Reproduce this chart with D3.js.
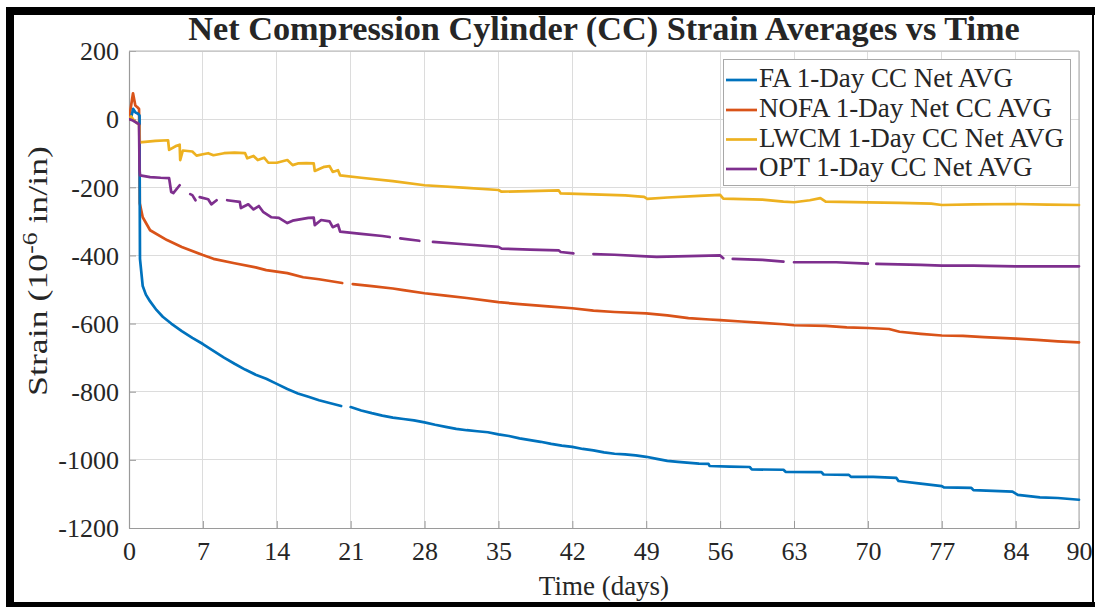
<!DOCTYPE html>
<html>
<head>
<meta charset="utf-8">
<script src="https://cdn.jsdelivr.net/npm/d3@7/dist/d3.min.js"></script>
<style>
  html, body { margin: 0; padding: 0; background: #fff; }
  svg { display: block; }
  text { font-family: "Liberation Serif", "Times New Roman", serif; fill: #262626; }
</style>
</head>
<body>
<svg id="chart" width="1095" height="607"></svg>
<script>
// Net compression-cylinder strain averages, [day, microstrain]; null marks a logging gap
const faData = [[0,0],[0.2,5],[0.4,30],[0.6,20],[0.9,15],[1.0,10],[1.02,-250],[1.04,-410],[1.3,-490],[1.6,-515],[2,-535],[2.6,-560],[3.2,-580],[4,-600],[5,-622],[6,-642],[7,-660],[8,-680],[9,-700],[10,-718],[11,-735],[12,-750],[13,-762],[14,-777],[15,-792],[16,-805],[17,-815],[18,-825],[19,-833],[20.1,-842],null,[21,-845],[22,-855],[23,-863],[24,-870],[25,-876],[26,-880],[27,-884],[28,-890],[29,-897],[30,-903],[31,-909],[32,-913],[33,-916],[34,-919],[35,-925],[36,-930],[37,-937],[38,-942],[39,-947],[40,-953],[41,-958],[42,-962],[43,-968],[44,-972],[45,-978],[46,-982],[47,-984],[48,-987],[49,-991],[50,-997],[51,-1003],[52,-1006],[54,-1011],[54.9,-1012],[55,-1018],[56.9,-1020],[58.8,-1021],[59,-1028],[62,-1029],[62.2,-1035],[65.6,-1036],[65.8,-1043],[68.2,-1044],[68.4,-1050],[70.5,-1050],[72.7,-1053],[72.9,-1062],[75,-1070],[77,-1077],[77.2,-1081],[79.8,-1082],[80,-1089],[83.7,-1093],[84.2,-1103],[86.3,-1110],[88,-1112],[90,-1117]];

const nofaData = [[0,0],[0.15,30],[0.38,76],[0.6,40],[0.8,35],[0.95,30],[1.0,-100],[1.02,-247],[1.3,-288],[2,-326],[3.6,-355],[5,-375],[7,-399],[8,-410],[10,-423],[12,-435],[13,-443],[15,-452],[16.5,-464],[18,-470],[20.2,-481],null,[21.2,-484],[23,-490],[25,-497],[26,-502],[28,-511],[30,-518],[32,-525],[35,-537],[37,-543],[40,-550],[42,-555],[44,-562],[46,-566],[49,-570],[51,-576],[53,-584],[55,-588],[56,-590],[58,-594],[60,-598],[62,-602],[63,-605],[66,-607],[68,-611],[70,-613],[72,-616],[73,-624],[75,-630],[77,-635],[79,-636],[81,-640],[84,-644],[86,-648],[88,-652],[90,-655]];

const lwcmData = [[0,0],[0.2,8],[0.5,-5],[0.9,-15],[1.0,-20],[1.02,-68],[2.5,-64],[3.7,-62],[3.8,-90],[4.5,-78],[4.8,-75],[4.85,-120],[5.1,-92],[6,-95],[6.4,-107],[7,-103],[7.5,-100],[8,-106],[9,-100],[10,-98],[11,-100],[11.2,-115],[11.8,-108],[12.2,-120],[12.8,-113],[13.2,-128],[14,-128],[15,-120],[15.5,-135],[16,-130],[16.8,-129],[17.5,-130],[17.6,-152],[18.5,-140],[19,-138],[19.3,-155],[19.8,-150],[20,-165],[22,-172],[25,-182],[28,-194],[32,-202],[35,-208],[35.3,-213],[38,-211],[40.7,-209],[40.9,-218],[44,-221],[47,-224],[48.8,-228],[49.1,-234],[51,-230],[54,-225],[56,-222],[56.3,-233],[60,-236],[62,-242],[63,-244],[64.5,-238],[65.5,-232],[66,-242],[70,-244],[73,-246],[76,-248],[77,-252],[80,-250],[84,-249],[87,-251],[90,-252]];

const optData = [[0,0],[0.3,-3],[0.8,-12],[0.95,-15],[1.0,-150],[1.05,-165],[2,-170],[3,-172],[3.8,-173],[4.0,-214],[4.2,-217],[4.8,-194],null,[5.8,-220],[6,-223],[6.3,-238],null,[6.7,-229],[7.5,-235],[7.8,-250],[8.3,-238],null,[9.3,-238],[10.5,-243],[10.6,-261],[11.3,-250],[11.8,-265],[12.3,-255],[12.7,-272],[13.5,-288],[14.2,-290],[15,-305],[15.5,-298],[17,-290],[17.5,-289],[17.6,-311],[18.2,-296],[19,-300],[19.3,-317],[19.8,-310],[20,-330],[22,-337],[24,-343],[24.7,-346],null,[25.7,-350],[27.5,-357],null,[28.8,-360],[32,-368],[35,-375],[35.3,-380],[38,-383],[40.7,-385],[40.9,-390],[42.1,-394],null,[44,-396],[46,-398],[49,-403],[50,-404],[53,-402],[56,-400],[56.3,-408],null,[57.2,-410],[60,-413],[62,-418],null,[63,-420],[67,-420],[70,-424],null,[70.8,-425],[75,-428],[77,-430],[80,-430],[84,-432],[87,-432],[90,-432]];

const seriesNames = ["FA 1-Day CC Net AVG", "NOFA 1-Day Net CC AVG", "LWCM 1-Day CC Net AVG", "OPT 1-Day CC Net AVG"];
const seriesColors = ["#0072BD", "#D95319", "#EDB120", "#7E2F8E"];
const xTicks = [0, 7, 14, 21, 28, 35, 42, 49, 56, 63, 70, 77, 84, 90];
const yTicks = [200, 0, -200, -400, -600, -800, -1000, -1200];

const series = [faData, nofaData, lwcmData, optData];

const svg = d3.select("#chart");
const W = 1095, H = 607;
const plot = { left: 129, right: 1079, top: 51, bottom: 528 };

const x = d3.scaleLinear().domain([0, 90]).range([plot.left, plot.right]);
const y = d3.scaleLinear().domain([-1200, 200]).range([plot.bottom, plot.top]);

svg.append("rect").attr("x", 0).attr("y", 0).attr("width", W).attr("height", H).attr("fill", "#fff");

// grid
const grid = svg.append("g").attr("stroke", "#dcdcdc").attr("stroke-width", 1).attr("shape-rendering", "crispEdges");
grid.selectAll("line.gx").data(xTicks).join("line")
  .attr("x1", d => x(d)).attr("x2", d => x(d)).attr("y1", plot.top).attr("y2", plot.bottom);
grid.selectAll("line.gy").data(yTicks).join("line")
  .attr("x1", plot.left).attr("x2", plot.right).attr("y1", d => y(d)).attr("y2", d => y(d));

// axes (ticks point inward, plain hyphen minus, no thousands separator)
const plain = d => String(d);
const xAxis = d3.axisBottom(x).tickValues(xTicks).tickFormat(plain).tickSizeInner(-7).tickSizeOuter(0).tickPadding(14);
const yAxis = d3.axisLeft(y).tickValues(yTicks).tickFormat(plain).tickSizeInner(-7).tickSizeOuter(0).tickPadding(10);

const gx = svg.append("g").attr("transform", `translate(0,${plot.bottom})`).call(xAxis);
const gy = svg.append("g").attr("transform", `translate(${plot.left},0)`).call(yAxis);
[gx, gy].forEach(g => {
  g.select(".domain").attr("stroke", "#9a9a9a").attr("stroke-width", 1.2);
  g.selectAll(".tick line").attr("stroke", "#9a9a9a");
  g.selectAll(".tick text").attr("font-family", "Liberation Serif").attr("font-size", 26).attr("fill", "#262626");
});
gx.selectAll(".tick text").attr("dy", "0.71em");
gy.selectAll(".tick text").attr("dy", "0.34em");

// box top/right
svg.append("line").attr("x1", plot.left).attr("x2", plot.right).attr("y1", plot.top).attr("y2", plot.top)
  .attr("stroke", "#b5b5b5").attr("stroke-width", 1.2);
svg.append("line").attr("x1", plot.right).attr("x2", plot.right).attr("y1", plot.top).attr("y2", plot.bottom)
  .attr("stroke", "#b5b5b5").attr("stroke-width", 1.2);

// series lines
const line = d3.line().defined(d => d != null).x(d => x(d[0])).y(d => y(d[1]));
svg.append("clipPath").attr("id", "plotclip").append("rect")
  .attr("x", plot.left).attr("y", plot.top - 2).attr("width", plot.right - plot.left + 2).attr("height", plot.bottom - plot.top + 2);
const lines = svg.append("g").attr("clip-path", "url(#plotclip)");
[1, 0, 2, 3].forEach(i => {
  lines.append("path").datum(series[i]).attr("d", line)
    .attr("fill", "none").attr("stroke", seriesColors[i]).attr("stroke-width", 2.7)
    .attr("stroke-linejoin", "round").attr("stroke-linecap", "round");
});

// stretch a centred text along its own direction to a given length
function fitLength(sel, cx, cy, rot, target) {
  const len = sel.node().getComputedTextLength();
  const s = target / len;
  sel.attr("transform", `translate(${cx},${cy}) rotate(${rot}) scale(${s},1)`);
}

// title
const title = svg.append("text").attr("x", 0).attr("y", 0)
  .attr("text-anchor", "middle").attr("font-weight", "bold").attr("font-size", 33).attr("fill", "#000")
  .text("Net Compression Cylinder (CC) Strain Averages vs Time");
fitLength(title, (plot.left + plot.right) / 2, 40, 0, 832);

// axis labels
svg.append("text").attr("x", (plot.left + plot.right) / 2).attr("y", 595)
  .attr("text-anchor", "middle").attr("font-size", 27).text("Time (days)");

const yl = svg.append("text").attr("x", 0).attr("y", 0)
  .attr("text-anchor", "middle").attr("font-size", 28);
yl.append("tspan").text("Strain (10");
yl.append("tspan").attr("dy", -10).attr("font-size", 20).text("-6");
yl.append("tspan").attr("dy", 10).text(" in/in)");
fitLength(yl, 47, 271, -90, 250);

// legend
const lg = svg.append("g");
lg.append("rect").attr("x", 723.5).attr("y", 59.5).attr("width", 347).attr("height", 126)
  .attr("fill", "#fff").attr("stroke", "#a8a8a8").attr("stroke-width", 1);
const rowY = [80, 110, 139.5, 169];
seriesNames.forEach((name, i) => {
  lg.append("line").attr("x1", 726).attr("x2", 757).attr("y1", rowY[i]).attr("y2", rowY[i])
    .attr("stroke", seriesColors[i]).attr("stroke-width", 2.7);
  lg.append("text").attr("x", 759).attr("y", rowY[i] + 7).attr("font-size", 27).attr("fill", "#111").text(name);
});

// outer black frame
const frame = svg.append("g").attr("fill", "#000");
frame.append("rect").attr("x", 6).attr("y", 7).attr("width", W - 6).attr("height", 8);
frame.append("rect").attr("x", 6).attr("y", 7).attr("width", 8).attr("height", H - 7);
frame.append("rect").attr("x", 6).attr("y", 602).attr("width", W - 6).attr("height", 5);
frame.append("rect").attr("x", 1092).attr("y", 7).attr("width", 2).attr("height", H - 7);
</script>
</body>
</html>
